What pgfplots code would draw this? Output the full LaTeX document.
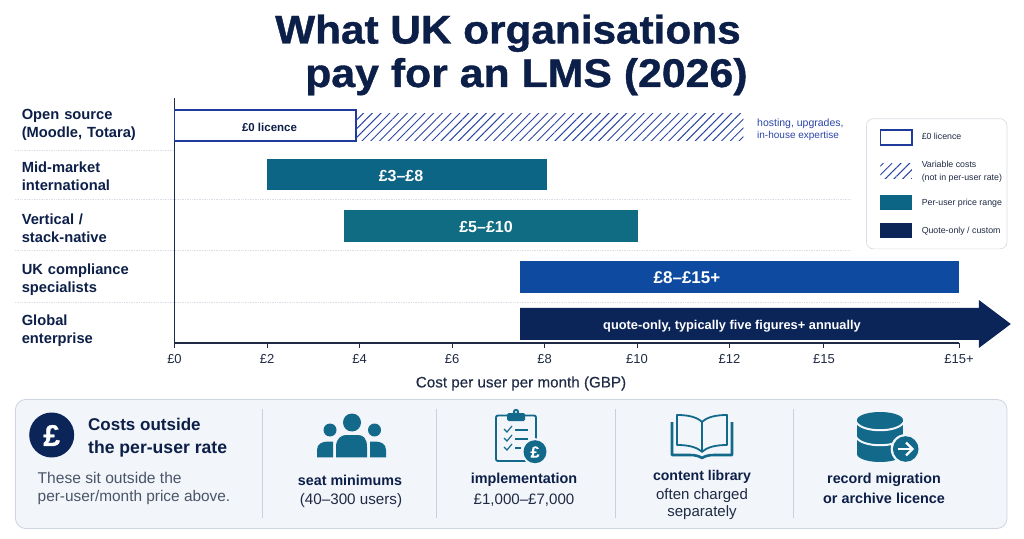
\documentclass[border=0pt]{standalone}
\usepackage{fontspec}
\setmainfont{Liberation Sans}
\usepackage{pgfplots}
\pgfplotsset{compat=1.18}
\usetikzlibrary{patterns.meta}
\definecolor{titlec}{HTML}{0C1F48}
\definecolor{navy}{HTML}{0B2559}
\definecolor{teala}{HTML}{0D6585}
\definecolor{tealb}{HTML}{0F6C82}
\definecolor{icon}{HTML}{12698A}
\definecolor{blue1}{HTML}{0E4BA0}
\definecolor{hatchc}{HTML}{2A45A5}
\definecolor{licc}{HTML}{1E3A9A}
\definecolor{axc}{HTML}{1F2A44}
\definecolor{panel}{HTML}{F2F5FA}
\definecolor{panelb}{HTML}{CDD5E0}
\definecolor{sep}{HTML}{C9D0DA}
\definecolor{gridc}{HTML}{D9DDE5}
\definecolor{grey1}{HTML}{4A5568}
\newcommand\fs[2]{\fontsize{#1}{#2}\selectfont}
\begin{document}
\begin{tikzpicture}
\path[use as bounding box] (0,0) rectangle (1024pt,538pt);
\begin{scope}[shift={(0pt,538pt)},x=1pt,y=-1pt]
% title
\node[anchor=base west,inner sep=0,text=titlec] at (275,43.5) {\scalebox{1.058}[1]{\fontspec[FakeBold=0.9]{Liberation Sans Bold}\fs{40}{44}What UK organisations}};
\node[anchor=base west,inner sep=0,text=titlec] at (305,87) {\scalebox{1.07}[1]{\fontspec[FakeBold=0.9]{Liberation Sans Bold}\fs{40}{44}pay for an LMS (2026)}};
% row separators
\draw[gridc,densely dotted,line width=0.7pt] (15,150)--(174,150);
\draw[gridc,densely dotted,line width=0.7pt] (15,199.5)--(850,199.5);
\draw[gridc,densely dotted,line width=0.7pt] (15,250.5)--(850,250.5);
\draw[gridc,densely dotted,line width=0.7pt] (15,302)--(959,302);
\end{scope}
\begin{axis}[
  at={(174.5pt,195pt)},anchor=south west,
  scale only axis,width=784.5pt,height=245pt,
  xmin=0,xmax=16.96,ymin=0,ymax=245,
  clip=false,
  axis lines=left,
  axis line style={-,draw=axc,line width=1.3pt},
  xtick={0,2,4,6,8,10,12,14.04,16.96},
  xticklabels={£0,£2,£4,£6,£8,£10,£12,£15,£15+},
  tick align=outside,
  major tick length=5pt,
  xtick style={draw=axc,line width=0.9pt},
  xticklabel style={font=\fs{13}{15},text=axc,inner sep=0pt,yshift=-6.5pt},
  ytick={220,168.5,116.5,65,14},
  yticklabels={{Open source\\(Moodle, Totara)},{Mid-market\\international},{Vertical /\\stack-native},{UK compliance\\specialists},{Global\\enterprise}},
  ytick style={draw=none},
  yticklabel style={align=left,text width=130pt,anchor=east,inner sep=0pt,
    font=\bfseries\fs{14.7}{18},text=titlec,xshift=-17.5pt,yshift=-1.5pt},
  xlabel={Cost per user per month (GBP)},
  every axis x label/.style={at={(axis description cs:0.4417,0)},anchor=center,yshift=-40.5pt,
    font=\addfontfeature{FakeBold=0.25}\fs{15.2}{17},text=axc},
  legend style={at={(0.8815,0.917)},anchor=north west,draw=gridc,line width=0.7pt,rounded corners=7pt,
    fill=white,inner xsep=5pt,inner ysep=10.5pt,row sep=13pt,column sep=9pt,
    font=\fs{8.8}{13},text=axc,nodes={inner sep=0pt},cells={align=left}},
  legend cell align=left,
  legend image code/.code={\path[draw=none,fill=none] (0pt,0pt);\path[sharp corners,#1] (9pt,-7.5pt) rectangle (40.5pt,7.5pt);},
]
\addplot[draw=licc,line width=1.7pt,fill=white] coordinates {(0,202)(3.92,202)(3.92,233)(0,233)} --cycle;
\addlegendentry{£0 licence}
\addplot[draw=none,pattern={Lines[angle=45,distance=6.2pt,line width=0.95pt]},pattern color=hatchc] coordinates {(3.92,202)(12.3,202)(12.3,229.7)(3.92,229.7)} --cycle;
\addlegendentry{\rule{0pt}{9pt}Variable costs\\(not in per-user rate)\rule[-7.5pt]{0pt}{12pt}}
\addplot[draw=none,fill=teala] coordinates {(1.99,152.5)(8.05,152.5)(8.05,184)(1.99,184)} --cycle;
\addlegendentry{Per-user price range}
\addplot[draw=none,fill=navy] coordinates {(7.47,3)(17.39,3)(17.39,-5)(18.08,19)(17.39,43)(17.39,35)(7.47,35)} --cycle;
\addlegendentry{Quote-only / custom\rule[-3.5pt]{0pt}{8pt}}
\addplot[forget plot,draw=none,fill=tealb] coordinates {(3.66,101)(10.01,101)(10.01,133)(3.66,133)} --cycle;
\addplot[forget plot,draw=none,fill=blue1] coordinates {(7.47,50)(16.97,50)(16.97,82)(7.47,82)} --cycle;
\end{axis}
\begin{scope}[shift={(0pt,538pt)},x=1pt,y=-1pt]
% bar labels
\node[text=titlec] at (269.5,127) {\bfseries\fs{11.5}{13}£0 licence};
\node[text=white] at (401,176) {\bfseries\fs{16}{18}£3–£8};
\node[text=white] at (486,227) {\bfseries\fs{16}{18}£5–£10};
\node[text=white] at (687,278) {\bfseries\fs{17}{18}£8–£15+};
\node[text=white] at (732,326) {\bfseries\fs{12.8}{16}quote-only, typically five figures+ annually};
\node[text=hatchc,anchor=west,align=left,inner sep=0] at (757,129.5) {\fs{10.5}{14}hosting, upgrades,\\in-house expertise};
% panel
\draw[panelb,fill=panel,line width=0.8pt,rounded corners=10pt] (15.5,399.5) rectangle (1007,528.5);
\foreach \x in {262.5,436.5,615.5,793} \draw[sep,line width=0.8pt] (\x,409)--(\x,518);
% pound circle
\fill[navy] (51.7,435) circle (22.5);
\node[text=white] at (51.7,435.5) {\fontspec[FakeBold=0.8]{Liberation Sans Bold}\fs{30}{32}£};
\node[text=titlec,anchor=base west,inner sep=0] at (88,430) {\bfseries\fs{17}{18}Costs outside};
\node[text=titlec,anchor=base west,inner sep=0] at (88,453) {\bfseries\fs{17.6}{18}the per-user rate};
\node[text=grey1,anchor=west,inner sep=0] at (37.5,477.5) {\fs{15.6}{16}These sit outside the};
\node[text=grey1,anchor=west,inner sep=0] at (37.5,498) {\fs{15.4}{16}per-user/month price above.};
% people icon
\fill[icon] (352,422.5) circle (9);
\fill[icon] (330,430) circle (6.5);
\fill[icon] (374.5,430) circle (6.5);
\fill[icon] (336,457.3)--(336,447) .. controls (336,438) and (342,435) .. (346,435)--(358,435) .. controls (363,435) and (367,438) .. (367,447)--(367,457.3)--cycle;
\fill[icon] (317,457.3)--(317,450) .. controls (317,444) and (322,441.5) .. (328,441.5)--(333,441.5)--(333,457.3)--cycle;
\fill[icon] (386,457.3)--(386,450) .. controls (386,444) and (381,441.5) .. (375,441.5)--(370,441.5)--(370,457.3)--cycle;
\node[text=titlec] at (350,480) {\bfseries\fs{14.3}{16}seat minimums};
\node[text=axc] at (351,501) {\fs{15.2}{17}(40–300 users)};
% clipboard icon
\draw[icon,line width=1.9pt,rounded corners=2pt] (507,415.5)--(496,415.5)--(496,461)--(536,461)--(536,415.5)--(525,415.5);
\fill[icon,rounded corners=1.5pt] (507,413) rectangle (525,421);
\fill[icon] (516,412) circle (3.2);
\fill[panel] (516,412) circle (1.2);
\foreach \y in {429,438,447} {
  \draw[icon,line width=1.2pt] (504,\y)--(507,\y+3)--(512,\y-3);
}
\draw[icon,line width=1.2pt] (515,430)--(528,430);
\draw[icon,line width=1.2pt] (515,439)--(528,439);
\draw[icon,line width=1.2pt] (515,448)--(521,448);
\fill[panel] (535,451.7) circle (13.5);
\fill[icon] (535,451.7) circle (11.5);
\node[text=white] at (535,452) {\fontspec[FakeBold=0.5]{Liberation Sans Bold}\fs{16}{17}£};
\node[text=titlec] at (524,480) {\bfseries\fs{14.4}{16}implementation};
\node[text=axc] at (524,500.5) {\fs{15.1}{17}£1,000–£7,000};
% book icon
\draw[icon,line width=1.8pt,line join=round] (677,445) .. controls (688,445) and (697,447) .. (702,452) .. controls (707,447) and (716,445) .. (727,445)--(727,415) .. controls (716,415) and (707,417) .. (702,422) .. controls (697,417) and (688,415) .. (677,415)--cycle;
\draw[icon,line width=1.6pt] (702,422)--(702,452);
\draw[icon,line width=2.6pt,line join=round] (672,422)--(672,455)--(690,455) .. controls (695,455) and (699,456) .. (702,458) .. controls (705,456) and (709,455) .. (714,455)--(732,455)--(732,422);
\node[text=titlec] at (702,477) {\bfseries\fs{14.1}{16}content library};
\node[text=axc] at (702,495.5) {\fs{15}{17}often charged};
\node[text=axc] at (702,513) {\fs{15}{17}separately};
% database icon
\fill[icon] (880,420) ellipse [x radius=23,y radius=8];
\fill[icon] (857,420) rectangle (903,454);
\fill[icon] (880,454) ellipse [x radius=23,y radius=8];
\draw[panel,line width=2pt] (856,422) .. controls (862,433) and (898,433) .. (904,422);
\draw[panel,line width=2pt] (856,437) .. controls (862,448) and (898,448) .. (904,437);
\fill[panel] (905.7,449) circle (15);
\fill[icon] (905.7,449) circle (12.8);
\draw[white,line width=2.2pt] (898,449)--(912,449);
\draw[white,line width=2.2pt,line join=miter] (906,442.5)--(912.5,449)--(906,455.5);
\node[text=titlec] at (884,480) {\bfseries\fs{14.3}{16}record migration};
\node[text=titlec] at (884,498) {\bfseries\fs{14.4}{16}or archive licence};
\end{scope}
\end{tikzpicture}
\end{document}
